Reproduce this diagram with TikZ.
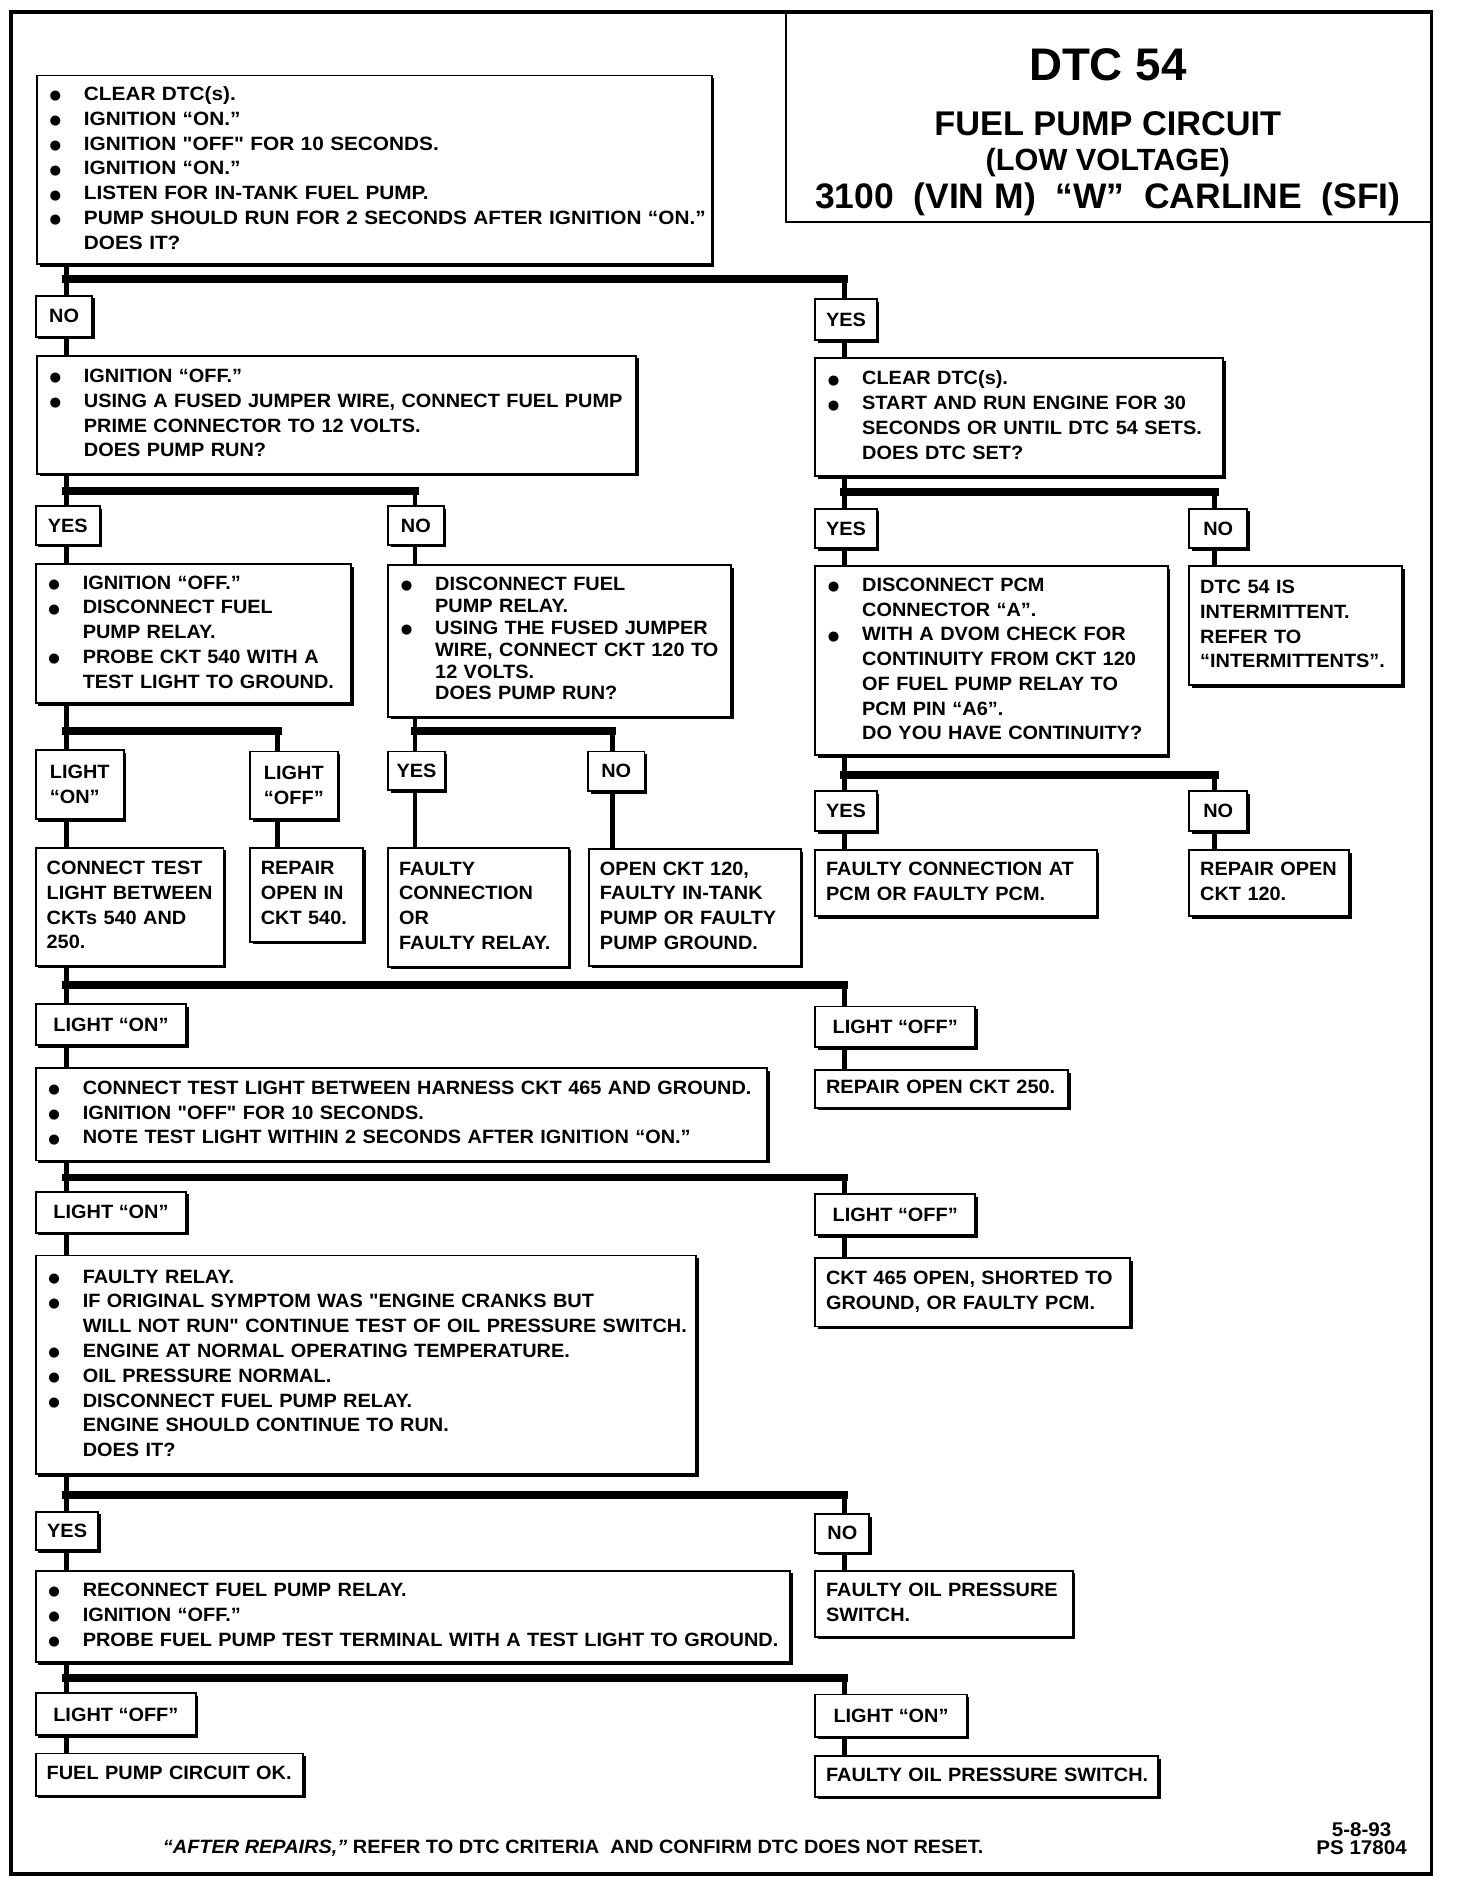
\documentclass[tikz,border=0pt]{standalone}
\usepackage{fontspec}
\newfontfamily\bodyf{Liberation Sans}[FakeStretch=1.035]
\newfontfamily\bodyw{Liberation Sans}[FakeStretch=1.08]
\newfontfamily\titf{Liberation Sans}
\newfontfamily\symf{DejaVu Sans}
\usetikzlibrary{shadows}
\newcommand\tb[1]{\raisebox{-3pt}{\begin{tabular}{@{}l@{}}#1\end{tabular}}}
\newcommand\bul{\makebox[30pt][l]{\hspace{1.5pt}\raisebox{0.5pt}{\symf\fontsize{11}{11}\selectfont ●}}}
\newcommand\ct{\hspace*{30pt}}
\begin{document}
\begin{tikzpicture}[x=1pt,y=-1pt,
  shbox/.style={draw, line width=1.6pt, fill=white,
    drop shadow={shadow xshift=2.2pt, shadow yshift=-2.2pt, opacity=1, fill=black}},
  bx/.style={shbox, anchor=north west, inner xsep=9pt, inner ysep=0pt, align=left,
    font=\bodyf\bfseries\fontsize{16}{20.6}\selectfont},
  lbl/.style={shbox, anchor=north west, inner xsep=2pt, inner ysep=0pt, align=left,
    font=\bodyf\bfseries\fontsize{16}{20.6}\selectfont},
  conn/.style={line width=4pt},
  bar/.style={line width=6.5pt, line cap=rect},
  ttl/.style={anchor=base, inner sep=0pt, font=\titf\bfseries}]
\useasboundingbox (0,0) rectangle (1211,1568);
\fill[white] (0,0) rectangle (1211,1568);

% outer frame and title
\draw[line width=3pt] (9,10) rectangle (1190,1558);
\node[draw, line width=1.6pt, anchor=north west, minimum width=537pt, minimum height=174pt, inner sep=0pt] (title) at (653,10) {};
\node[ttl, font=\titf\bfseries\fontsize{38}{40}\selectfont] (t1) at (921,66.6) {DTC 54};
\node[ttl, font=\titf\bfseries\fontsize{28.5}{30}\selectfont] (t2) at (921,113) {FUEL PUMP CIRCUIT};
\node[ttl, font=\titf\bfseries\fontsize{25.5}{27}\selectfont] (t3) at (921,141.5) {(LOW VOLTAGE)};
\node[ttl, font=\titf\bfseries\fontsize{29.5}{31}\selectfont] (t4) at (921,173) {3100\ \ (VIN M)\ \ “W”\ \ CARLINE\ \ (SFI)};

% row 1
\node[bx, minimum width=561pt, minimum height=157pt, text width=543pt,
  font=\bodyw\bfseries\fontsize{16}{20.6}\selectfont] (b1) at (30,62) {\tb{%
\bul CLEAR DTC(s).\\
\bul IGNITION “ON.”\\
\bul IGNITION "OFF" FOR 10 SECONDS.\\
\bul IGNITION “ON.”\\
\bul LISTEN FOR IN-TANK FUEL PUMP.\\
\bul PUMP SHOULD RUN FOR 2 SECONDS AFTER IGNITION “ON.”\\
\ct DOES IT?}};

\node[lbl, minimum width=47pt, minimum height=34pt] (noA) at (29,245) {NO};
\node[lbl, minimum width=51pt, minimum height=34pt] (yesA) at (677,248) {YES};

\node[bx, minimum width=498pt, minimum height=98pt, text width=480pt] (b2) at (30,295) {\tb{%
\bul IGNITION “OFF.”\\
\bul USING A FUSED JUMPER WIRE, CONNECT FUEL PUMP\\
\ct PRIME CONNECTOR TO 12 VOLTS.\\
\ct DOES PUMP RUN?}};
\node[bx, minimum width=339pt, minimum height=98pt, text width=321pt] (b3) at (677,297) {\tb{%
\bul CLEAR DTC(s).\\
\bul START AND RUN ENGINE FOR 30\\
\ct SECONDS OR UNTIL DTC 54 SETS.\\
\ct DOES DTC SET?}};

\node[lbl, minimum width=53pt, minimum height=32pt] (yesB) at (29,420) {YES};
\node[lbl, minimum width=46pt, minimum height=32pt] (noB) at (322,420) {NO};
\node[lbl, minimum width=51pt, minimum height=33pt] (yesC) at (677,422) {YES};
\node[lbl, minimum width=48pt, minimum height=33pt] (noC) at (988,422) {NO};

\node[bx, minimum width=262pt, minimum height=116pt, text width=244pt] (b4) at (29,468) {\tb{%
\bul IGNITION “OFF.”\\
\bul DISCONNECT FUEL\\
\ct PUMP RELAY.\\
\bul PROBE CKT 540 WITH A\\
\ct TEST LIGHT TO GROUND.}};
\node[bx, minimum width=285pt, minimum height=126pt, text width=267pt,
  font=\bodyf\bfseries\fontsize{16}{18.2}\selectfont] (b5) at (322,469) {\tb{%
\bul DISCONNECT FUEL\\
\ct PUMP RELAY.\\
\bul USING THE FUSED JUMPER\\
\ct WIRE, CONNECT CKT 120 TO\\
\ct 12 VOLTS.\\
\ct DOES PUMP RUN?}};
\node[bx, minimum width=293pt, minimum height=157pt, text width=275pt] (b6) at (677,470) {\tb{%
\bul DISCONNECT PCM\\
\ct CONNECTOR “A”.\\
\bul WITH A DVOM CHECK FOR\\
\ct CONTINUITY FROM CKT 120\\
\ct OF FUEL PUMP RELAY TO\\
\ct PCM PIN “A6”.\\
\ct DO YOU HAVE CONTINUITY?}};
\node[bx, minimum width=177pt, minimum height=99pt, text width=159pt] (b7) at (988,470) {\tb{%
DTC 54 IS\\
INTERMITTENT.\\
REFER TO\\
“INTERMITTENTS”.}};

\node[lbl, minimum width=73pt, minimum height=57pt] (lonD) at (29,623) {LIGHT\\“ON”};
\node[lbl, minimum width=73pt, minimum height=56pt] (loffD) at (207,624) {LIGHT\\“OFF”};
\node[lbl, minimum width=47pt, minimum height=32pt] (yesE) at (322,624) {YES};
\node[lbl, minimum width=47pt, minimum height=33pt] (noE) at (488,624) {NO};
\node[lbl, minimum width=51pt, minimum height=33pt] (yesF) at (677,657) {YES};
\node[lbl, minimum width=48pt, minimum height=33pt] (noF) at (988,657) {NO};

\node[bx, minimum width=156pt, minimum height=98pt, text width=138pt] (b8) at (29,704) {\tb{%
CONNECT TEST\\
LIGHT BETWEEN\\
CKTs 540 AND\\
250.}};
\node[bx, minimum width=94pt, minimum height=78pt, text width=76pt] (b9) at (207,704) {\tb{%
REPAIR\\
OPEN IN\\
CKT 540.}};
\node[bx, minimum width=150pt, minimum height=99pt, text width=132pt] (b10) at (322,704) {\tb{%
FAULTY\\
CONNECTION\\
OR\\
FAULTY RELAY.}};
\node[bx, minimum width=176pt, minimum height=97pt, text width=158pt] (b11) at (489,705) {\tb{%
OPEN CKT 120,\\
FAULTY IN-TANK\\
PUMP OR FAULTY\\
PUMP GROUND.}};
\node[bx, minimum width=234pt, minimum height=55pt, text width=216pt] (b12) at (677,706) {\tb{%
FAULTY CONNECTION AT\\
PCM OR FAULTY PCM.}};
\node[bx, minimum width=133pt, minimum height=55pt, text width=115pt] (b13) at (988,706) {\tb{%
REPAIR OPEN\\
CKT 120.}};

\node[lbl, minimum width=125pt, minimum height=34pt] (lonG) at (29,834) {LIGHT “ON”};
\node[lbl, minimum width=133pt, minimum height=34pt] (loffG) at (677,836) {LIGHT “OFF”};

\node[bx, minimum width=608pt, minimum height=77pt, text width=590pt] (b14) at (29,887) {\tb{%
\bul CONNECT TEST LIGHT BETWEEN HARNESS CKT 465 AND GROUND.\\
\bul IGNITION "OFF" FOR 10 SECONDS.\\
\bul NOTE TEST LIGHT WITHIN 2 SECONDS AFTER IGNITION “ON.”}};
\node[bx, minimum width=210pt, minimum height=31pt, text width=192pt] (b15) at (677,889) {\tb{%
REPAIR OPEN CKT 250.}};

\node[lbl, minimum width=125pt, minimum height=34pt] (lonH) at (29,990) {LIGHT “ON”};
\node[lbl, minimum width=133pt, minimum height=34pt] (loffH) at (677,992) {LIGHT “OFF”};

\node[bx, minimum width=549pt, minimum height=182pt, text width=531pt] (b16) at (29,1043) {\tb{%
\bul FAULTY RELAY.\\
\bul IF ORIGINAL SYMPTOM WAS "ENGINE CRANKS BUT\\
\ct WILL NOT RUN" CONTINUE TEST OF OIL PRESSURE SWITCH.\\
\bul ENGINE AT NORMAL OPERATING TEMPERATURE.\\
\bul OIL PRESSURE NORMAL.\\
\bul DISCONNECT FUEL PUMP RELAY.\\
\ct ENGINE SHOULD CONTINUE TO RUN.\\
\ct DOES IT?}};
\node[bx, minimum width=262pt, minimum height=57pt, text width=244pt] (b17) at (677,1045) {\tb{%
CKT 465 OPEN, SHORTED TO\\
GROUND, OR FAULTY PCM.}};

\node[lbl, minimum width=52pt, minimum height=32pt] (yesI) at (29,1256) {YES};
\node[lbl, minimum width=45pt, minimum height=32pt] (noI) at (677,1258) {NO};

\node[bx, minimum width=627pt, minimum height=76pt, text width=609pt] (b18) at (29,1305) {\tb{%
\bul RECONNECT FUEL PUMP RELAY.\\
\bul IGNITION “OFF.”\\
\bul PROBE FUEL PUMP TEST TERMINAL WITH A TEST LIGHT TO GROUND.}};
\node[bx, minimum width=214pt, minimum height=55pt, text width=196pt] (b19) at (677,1305) {\tb{%
FAULTY OIL PRESSURE\\
SWITCH.}};

\node[lbl, minimum width=133pt, minimum height=35pt] (loffJ) at (29,1407) {LIGHT “OFF”};
\node[lbl, minimum width=126pt, minimum height=35pt] (lonJ) at (677,1408) {LIGHT “ON”};

\node[bx, minimum width=222pt, minimum height=35pt, text width=204pt] (b20) at (29,1457) {\tb{%
FUEL PUMP CIRCUIT OK.}};
\node[bx, minimum width=285pt, minimum height=34pt, text width=267pt] (b21) at (677,1459) {\tb{%
FAULTY OIL PRESSURE SWITCH.}};

% footer
\node[anchor=base, inner sep=0pt, font=\bodyf\bfseries\fontsize{16}{18}\selectfont] (foot) at (476.5,1541)
  {\itshape “AFTER REPAIRS,”\upshape\ REFER TO DTC CRITERIA\ \ AND CONFIRM DTC DOES NOT RESET.};
\node[anchor=base, inner sep=0pt, font=\bodyf\bfseries\fontsize{16.5}{18}\selectfont] (date) at (1132,1526.6) {5-8-93};
\node[anchor=base, inner sep=0pt, font=\bodyf\bfseries\fontsize{16.5}{18}\selectfont] (ps) at (1132,1542) {PS 17804};

% trunk / bar coordinates
\coordinate (A1) at (55,232);  \coordinate (A2) at (702,232);
\coordinate (B1) at (55,408);  \coordinate (B2) at (345,408);
\coordinate (C1) at (702,409); \coordinate (C2) at (1010,409);
\coordinate (D1) at (55,608);  \coordinate (D2) at (231,608);
\coordinate (E1) at (345,608); \coordinate (E2) at (509,608);
\coordinate (F1) at (702,644); \coordinate (F2) at (1010,644);
\coordinate (G1) at (55,819);  \coordinate (G2) at (702,819);
\coordinate (H1) at (55,979);  \coordinate (H2) at (702,979);
\coordinate (I1) at (55,1243); \coordinate (I2) at (702,1243);
\coordinate (J1) at (55,1395); \coordinate (J2) at (702,1395);

% branch A
\draw[conn] (b1.south -| A1) -- (noA.north -| A1);
\draw[bar] (A1) -- (A2);
\draw[conn] (A2) -- (yesA.north -| A2);
\draw[conn] (noA.south -| A1) -- (b2.north -| A1);
\draw[conn] (yesA.south -| A2) -- (b3.north -| A2);
% branch B
\draw[conn] (b2.south -| B1) -- (yesB.north -| B1);
\draw[bar] (B1) -- (B2);
\draw[conn] (B2) -- (noB.north -| B2);
\draw[conn] (yesB.south -| B1) -- (b4.north -| B1);
\draw[conn] (noB.south -| B2) -- (b5.north -| B2);
% branch C
\draw[conn] (b3.south -| C1) -- (yesC.north -| C1);
\draw[bar] (C1) -- (C2);
\draw[conn] (C2) -- (noC.north -| C2);
\draw[conn] (yesC.south -| C1) -- (b6.north -| C1);
\draw[conn] (noC.south -| C2) -- (b7.north -| C2);
% branch D
\draw[conn] (b4.south -| D1) -- (lonD.north -| D1);
\draw[bar] (D1) -- (D2);
\draw[conn] (D2) -- (loffD.north -| D2);
\draw[conn] (lonD.south -| D1) -- (b8.north -| D1);
\draw[conn] (loffD.south -| D2) -- (b9.north -| D2);
% branch E
\draw[conn] (b5.south -| E1) -- (yesE.north -| E1);
\draw[bar] (E1) -- (E2);
\draw[conn] (E2) -- (noE.north -| E2);
\draw[conn] (yesE.south -| E1) -- (b10.north -| E1);
\draw[conn] (noE.south -| E2) -- (b11.north -| E2);
% branch F
\draw[conn] (b6.south -| F1) -- (yesF.north -| F1);
\draw[bar] (F1) -- (F2);
\draw[conn] (F2) -- (noF.north -| F2);
\draw[conn] (yesF.south -| F1) -- (b12.north -| F1);
\draw[conn] (noF.south -| F2) -- (b13.north -| F2);
% branch G
\draw[conn] (b8.south -| G1) -- (lonG.north -| G1);
\draw[bar] (G1) -- (G2);
\draw[conn] (G2) -- (loffG.north -| G2);
\draw[conn] (lonG.south -| G1) -- (b14.north -| G1);
\draw[conn] (loffG.south -| G2) -- (b15.north -| G2);
% branch H
\draw[conn] (b14.south -| H1) -- (lonH.north -| H1);
\draw[bar] (H1) -- (H2);
\draw[conn] (H2) -- (loffH.north -| H2);
\draw[conn] (lonH.south -| H1) -- (b16.north -| H1);
\draw[conn] (loffH.south -| H2) -- (b17.north -| H2);
% branch I
\draw[conn] (b16.south -| I1) -- (yesI.north -| I1);
\draw[bar] (I1) -- (I2);
\draw[conn] (I2) -- (noI.north -| I2);
\draw[conn] (yesI.south -| I1) -- (b18.north -| I1);
\draw[conn] (noI.south -| I2) -- (b19.north -| I2);
% branch J
\draw[conn] (b18.south -| J1) -- (loffJ.north -| J1);
\draw[bar] (J1) -- (J2);
\draw[conn] (J2) -- (lonJ.north -| J2);
\draw[conn] (loffJ.south -| J1) -- (b20.north -| J1);
\draw[conn] (lonJ.south -| J2) -- (b21.north -| J2);
\end{tikzpicture}
\end{document}
